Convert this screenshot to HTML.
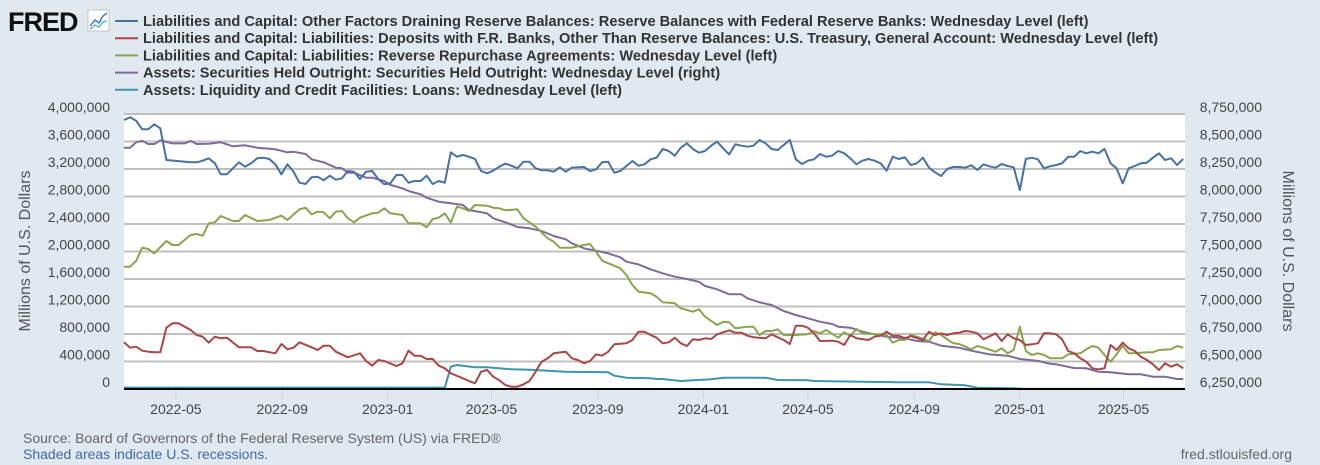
<!DOCTYPE html>
<html><head><meta charset="utf-8"><style>
body{margin:0;background:#e1e9f0;}
svg{display:block;font-family:"Liberation Sans",sans-serif;}
</style></head><body>
<svg id="chart" width="1320" height="465" viewBox="0 0 1320 465">
<rect x="0" y="0" width="1320" height="465" fill="#e1e9f0"/>
<g>
<text x="8" y="31" font-size="27" font-weight="bold" fill="#111" letter-spacing="-1">FRED</text>
<rect x="88" y="10" width="21" height="21" fill="#fff" stroke="#bbb" stroke-width="0.8"/>
<polyline points="90,26 95,20 99,23 103,16 107,13" fill="none" stroke="#3b7bd4" stroke-width="1.5"/>
<polyline points="90,29 95,25 99,27 103,22 107,21" fill="none" stroke="#4fb89f" stroke-width="1.3"/>
</g>
<g id="legend"></g>
<rect x="124" y="114" width="1061" height="275" fill="#fff"/>
<g id="grid"></g>
<g id="series"></g>
<line x1="124" y1="389" x2="1185" y2="389" stroke="#000" stroke-width="2"/>
<g id="axes"></g>
<text transform="translate(30,251) rotate(-90)" text-anchor="middle" font-size="16" fill="#555">Millions of U.S. Dollars</text>
<text transform="translate(1283,251) rotate(90)" text-anchor="middle" font-size="16" fill="#555">Millions of U.S. Dollars</text>
<text x="23" y="443" font-size="14" fill="#666">Source: Board of Governors of the Federal Reserve System (US) via FRED®</text>
<text x="23" y="459" font-size="14" fill="#3d6aa8">Shaded areas indicate U.S. recessions.</text>
<text x="1292" y="459" font-size="14" fill="#666" text-anchor="end">fred.stlouisfed.org</text>
</svg>
<script>
// weeks since 2022-03-02 (Wednesday levels); values in billions of USD
const startDate = "2022-03-02";
const tickLabels = ["2022-05","2022-09","2023-01","2023-05","2023-09","2024-01","2024-05","2024-09","2025-01","2025-05"];
const leftTicks = [0,400,800,1200,1600,2000,2400,2800,3200,3600,4000];
const rightTicks = [6250,6500,6750,7000,7250,7500,7750,8000,8250,8500,8750];
const legendLabels = [
 "Liabilities and Capital: Other Factors Draining Reserve Balances: Reserve Balances with Federal Reserve Banks: Wednesday Level (left)",
 "Liabilities and Capital: Liabilities: Deposits with F.R. Banks, Other Than Reserve Balances: U.S. Treasury, General Account: Wednesday Level (left)",
 "Liabilities and Capital: Liabilities: Reverse Repurchase Agreements: Wednesday Level (left)",
 "Assets: Securities Held Outright: Securities Held Outright: Wednesday Level (right)",
 "Assets: Liquidity and Credit Facilities: Loans: Wednesday Level (left)"];
const seriesColors = ["#4572a7","#aa4643","#89a54e","#80699b","#3d96ae"];

const reservesWeeks = [0,1,2,3,4,5,6,7,11,12,13,14,15,16,17,19,20,21,22,23,24,25,26,27,28,29,30,31,32,33,34,35,36,37,38,39,40,41,42,43,44,45,46,47,48,49,50,51,52,53,54,55,56,57,58,59,60,61,62,63,64,65,66,67,68,69,70,71,72,73,74,76,77,78,79,80,81,82,83,84,85,86,87,88,89,90,91,92,93,94,95,96,97,98,99,100,101,102,103,104,105,106,107,108,109,110,111,112,113,114,115,116,117,118,119,120,121,122,123,124,125,126,127,128,129,130,131,132,133,134,135,136,137,138,139,140,141,142,143,144,145,146,147,148,149,150,151,152,153,154,155,156,157,158,159,160,161,162,163,164,165,166,167,168,169,170,171,172,173,174,175];
const reservesVals = [3913,3952,3903,3777,3777,3850,3792,3331,3297,3297,3321,3356,3283,3123,3123,3297,3233,3283,3356,3365,3345,3268,3123,3268,3162,3001,2982,3079,3088,3036,3103,3045,3064,3171,3161,3055,3161,3171,3055,2978,2991,3113,3113,3001,3025,3025,3103,2982,3025,3001,3443,3379,3403,3379,3345,3171,3137,3175,3233,3277,3248,3210,3306,3306,3210,3181,3181,3161,3225,3161,3220,3229,3171,3196,3297,3306,3146,3171,3243,3316,3248,3268,3341,3365,3491,3462,3394,3510,3574,3491,3437,3462,3539,3597,3500,3413,3559,3539,3525,3539,3622,3574,3491,3476,3549,3622,3341,3273,3321,3341,3418,3379,3394,3462,3428,3356,3268,3321,3345,3321,3283,3175,3379,3345,3370,3258,3283,3365,3219,3152,3098,3200,3229,3229,3219,3254,3185,3268,3239,3219,3273,3243,3225,2894,3345,3365,3341,3210,3239,3258,3283,3379,3379,3462,3428,3452,3428,3491,3283,3210,2991,3210,3243,3283,3292,3365,3428,3331,3356,3258,3345];

const tgaWeeks = [0,1,2,3,4,5,6,7,8,9,11,12,13,14,15,16,17,19,21,22,23,25,26,27,28,29,31,32,33,34,35,37,39,40,41,42,43,45,46,47,48,49,50,51,52,53,54,56,57,58,59,60,61,62,63,64,65,66,67,68,69,70,71,73,74,75,76,77,78,79,80,81,83,84,85,86,87,88,89,90,91,92,93,94,95,96,97,98,100,101,102,103,104,106,107,108,109,110,111,112,113,114,115,117,118,119,120,121,123,124,125,126,127,128,129,130,132,133,134,135,136,137,138,139,140,141,142,144,145,146,147,148,149,150,151,152,153,154,155,156,157,158,159,160,161,162,163,164,165,166,167,168,169,170,171,172,173,174,175];
const tgaVals = [679,601,615,557,543,534,534,892,956,956,858,785,761,673,761,737,746,606,606,553,553,519,655,577,601,679,606,567,630,630,543,461,519,407,339,422,407,335,374,557,484,484,436,436,339,301,228,156,116,83,252,276,179,127,58,34,34,68,116,252,397,446,519,543,446,422,374,407,505,484,543,650,665,713,833,833,785,746,665,679,746,665,625,723,713,737,727,796,854,819,819,775,752,737,796,752,713,655,921,921,892,810,698,703,688,640,785,737,713,761,775,833,775,775,737,771,713,833,785,810,785,810,819,844,833,810,723,810,698,796,737,713,640,650,665,810,810,796,723,553,519,446,397,301,286,301,640,567,673,592,553,470,422,359,276,374,325,359,301];

const rrpWeeks = [0,1,2,3,4,5,7,8,9,11,12,13,14,15,16,18,19,20,22,24,26,27,29,30,31,32,33,34,35,36,37,38,39,41,42,43,44,46,47,49,50,51,52,53,54,55,56,57,58,60,61,62,63,65,66,68,70,71,72,74,76,77,78,79,82,83,84,85,87,88,89,91,92,94,95,96,98,99,100,101,103,104,105,106,107,108,109,111,113,114,115,116,118,119,120,121,122,124,126,127,128,129,130,131,133,134,135,137,138,140,141,142,144,145,146,147,148,149,150,151,152,153,155,156,158,159,160,161,162,163,164,165,166,167,169,170,171,173,174,175];
const rrpVals = [1779,1779,1862,2055,2036,1974,2153,2095,2095,2240,2254,2230,2410,2425,2516,2444,2444,2531,2444,2458,2521,2458,2614,2637,2541,2579,2570,2483,2579,2589,2483,2425,2492,2555,2565,2628,2555,2531,2410,2410,2352,2473,2492,2555,2419,2652,2628,2589,2676,2666,2637,2628,2599,2614,2483,2361,2192,2143,2055,2055,2095,2109,1997,1866,1756,1658,1513,1415,1392,1343,1261,1246,1174,1125,1159,1052,931,979,970,883,906,906,785,844,844,868,785,785,796,844,810,858,746,825,771,873,810,796,785,673,713,713,785,761,698,825,785,665,655,577,625,601,543,592,519,567,906,553,495,519,495,446,446,505,519,577,625,601,495,397,505,630,519,519,534,534,567,577,625,601];

const sohWeeks = [0,1,2,3,4,5,6,8,10,11,12,14,16,18,20,22,25,27,28,30,31,33,35,36,37,38,40,41,43,44,46,47,49,50,52,54,56,57,60,61,63,65,67,69,71,73,74,76,78,80,82,83,85,87,89,91,93,95,96,98,100,102,103,105,107,109,111,113,115,117,118,120,122,124,126,129,131,133,135,138,140,143,146,148,151,153,154,157,159,161,163,166,168,170,172,174,175];
const sohVals = [8444,8444,8493,8505,8477,8477,8511,8483,8483,8505,8477,8480,8493,8456,8465,8444,8429,8402,8407,8386,8338,8311,8262,8256,8216,8216,8171,8171,8141,8105,8075,8050,8020,7989,7953,7938,7923,7877,7847,7802,7765,7723,7711,7686,7641,7611,7575,7529,7507,7483,7447,7407,7383,7338,7302,7271,7250,7225,7186,7156,7111,7111,7075,7038,7014,6959,6923,6893,6862,6841,6816,6807,6771,6747,6725,6711,6686,6680,6644,6625,6598,6565,6553,6523,6505,6480,6475,6441,6438,6407,6402,6384,6384,6362,6362,6341,6341];

const loansWeeks = [0,53,54,55,58,60,64,67,73,80,81,83,87,88,89,92,97,99,106,108,113,114,122,128,131,133,135,139,141,147,149,175];
const loansVals = [20,20,324,349,316,316,287,281,252,243,194,164,156,145,145,116,141,164,164,131,127,116,106,97,97,97,68,54,19,10,2,2];

const X0=124, X1=1185, Y0=389, Y1=114, NW=175.3;
const NS="http://www.w3.org/2000/svg";
function xScale(w){return X0+(X1-X0)*w/NW;}
function yLeft(v){return Y0-(Y0-Y1)*v/4000;}
function yRight(v){return Y0-(Y0-Y1)*(v-6250)/2500;}
function weekOfDate(s){const d=(new Date(s+"-01T00:00:00Z")-new Date(startDate+"T00:00:00Z"))/86400000;return d/7;}
function fmt(v){return (v*1000).toLocaleString("en-US");}
function mk(tag,attrs,parent){const e=document.createElementNS(NS,tag);for(const k in attrs)e.setAttribute(k,attrs[k]);parent.appendChild(e);return e;}

const grid=document.getElementById("grid"), axes=document.getElementById("axes");
leftTicks.forEach((t,i)=>{
 if(i>0){const g=mk("line",{x1:X0,x2:X1,y1:yLeft(t),y2:yLeft(t),stroke:"#c0c0c0","stroke-width":2},grid);
 
 }
 const l=mk("text",{x:110,y:yLeft(t)-2,"text-anchor":"end","font-size":14,fill:"#444"},axes);
 l.textContent=fmt(t);
 
 
});
rightTicks.forEach(t=>{
 const l=mk("text",{x:1262,y:yRight(t)-2,"text-anchor":"end","font-size":14,fill:"#444"},axes);
 l.textContent=fmt(t);
 
 
});
tickLabels.forEach(t=>{
 const x=xScale(weekOfDate(t));
 const tk=mk("line",{x1:x,x2:x,y1:390,y2:399,stroke:"#c8d4e0","stroke-width":1},axes);
 
 
 const l=mk("text",{x:x,y:414,"text-anchor":"middle","font-size":14,fill:"#444"},axes);
 l.textContent=t;
 
 
});
const sg=document.getElementById("series");
function drawSeries(weeks,vals,color,yf,name){
 const pts=weeks.map((w,i)=>xScale(w).toFixed(1)+","+yf(vals[i]).toFixed(1)).join(" ");
 const p=mk("polyline",{points:pts,fill:"none",stroke:color,"stroke-width":2,"stroke-linejoin":"round"},sg);
 
 
}
drawSeries(loansWeeks,loansVals,seriesColors[4],yLeft,'loans-line');
drawSeries(sohWeeks,sohVals,seriesColors[3],yRight,'securities-held-line');
drawSeries(rrpWeeks,rrpVals,seriesColors[2],yLeft,'reverse-repo-line');
drawSeries(tgaWeeks,tgaVals,seriesColors[1],yLeft,'treasury-general-account-line');
drawSeries(reservesWeeks,reservesVals,seriesColors[0],yLeft,'reserve-balances-line');

const lg=document.getElementById("legend");
legendLabels.forEach((s,i)=>{
 const y=21+i*17.2;
 const ln=mk("line",{x1:115,x2:138,y1:y,y2:y,stroke:seriesColors[i],"stroke-width":2},lg);
 
 
 const t=mk("text",{x:143,y:y+5,"font-size":14.6,"font-weight":"bold",fill:"#333"},lg);
 t.textContent=s;
 
 
});
</script>
</body></html>
